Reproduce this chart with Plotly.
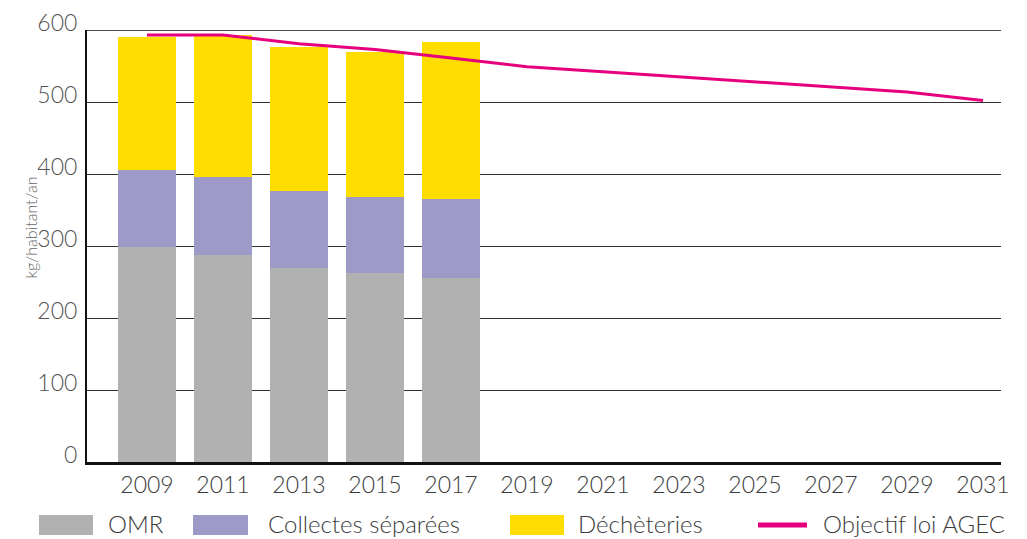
import plotly.graph_objects as go

# Household waste per inhabitant (kg/habitant/an)
years = ["2009", "2011", "2013", "2015", "2017", "2019", "2021",
         "2023", "2025", "2027", "2029", "2031"]
bar_years = ["2009", "2011", "2013", "2015", "2017"]
omr = [299, 288, 270, 262, 255]
collectes = [106, 108, 106, 106, 110]
decheteries = [185, 197, 200, 202, 218]
objectif_agec = [593, 593, 581, 573, 561, 549, 542, 535, 528, 522, 514, 502]

C_OMR = "#b1b1b1"
C_COLL = "#9d9ac8"
C_DECH = "#ffdd00"
C_AGEC = "#e6007e"
TXT = "#3c3c3c"
FONT = "Lato"

# Canvas / plot area geometry (pixels)
W_TOT, H_TOT = 1027, 539
ML, MR, MT, MB = 87, 26, 30, 77
PW = W_TOT - ML - MR
PH = H_TOT - MT - MB


def px(x):
    return (x - ML) / PW


def py(y):
    return (H_TOT - MB - y) / PH


fig = go.Figure()
fig.add_bar(x=bar_years, y=omr, name="OMR", marker_color=C_OMR,
            marker_line_width=0)
fig.add_bar(x=bar_years, y=collectes, name="Collectes séparées",
            marker_color=C_COLL, marker_line_width=0)
fig.add_bar(x=bar_years, y=decheteries, name="Déchèteries",
            marker_color=C_DECH, marker_line_width=0)
fig.add_scatter(x=years, y=objectif_agec, name="Objectif loi AGEC",
                mode="lines", line=dict(color=C_AGEC, width=3))

shapes = [
    # top border of the plot area
    dict(type="line", xref="paper", yref="y", x0=0, x1=1, y0=600, y1=600,
         line=dict(color="#111111", width=1.5), layer="above"),
]
annotations = [
    dict(text="kg/habitant/an", textangle=-90, xref="paper", yref="paper",
         x=px(18), y=py(228), showarrow=False,
         font=dict(family=FONT, size=16, color="#666666", weight=300)),
]

# Custom legend row
legend_items = [
    ("rect", C_OMR, 39, 93, 107, "OMR"),
    ("rect", C_COLL, 193, 248, 267, "Collectes séparées"),
    ("rect", C_DECH, 510, 564, 577, "Déchèteries"),
    ("line", C_AGEC, 758, 807, 822, "Objectif loi AGEC"),
]
LY = 525
for kind, col, x0, x1, tx, label in legend_items:
    if kind == "rect":
        shapes.append(dict(type="rect", xref="paper", yref="paper",
                           x0=px(x0), x1=px(x1), y0=py(LY + 10), y1=py(LY - 10),
                           fillcolor=col, line=dict(width=0)))
    else:
        shapes.append(dict(type="line", xref="paper", yref="paper",
                           x0=px(x0), x1=px(x1), y0=py(LY), y1=py(LY),
                           line=dict(color=col, width=5)))
    annotations.append(dict(text=label, xref="paper", yref="paper",
                            x=px(tx), y=py(LY - 2), xanchor="left", yanchor="middle",
                            showarrow=False, borderpad=0,
                            font=dict(family=FONT, size=24, color=TXT, weight=300)))

fig.update_layout(
    width=W_TOT, height=H_TOT,
    margin=dict(l=ML, r=MR, t=MT, b=MB, autoexpand=False),
    paper_bgcolor="white", plot_bgcolor="white",
    barmode="stack", bargap=0.224,
    showlegend=False,
    font=dict(family=FONT, color=TXT),
    shapes=shapes, annotations=annotations,
    xaxis=dict(
        type="category", categoryorder="array", categoryarray=years,
        range=[(ML - 147) / 76, (ML + PW - 147) / 76],
        showgrid=False, showline=True, linecolor="#111111", linewidth=2.5,
        ticks="", ticklabelstandoff=1, automargin=False,
        tickfont=dict(family=FONT, size=23, color=TXT, weight=300),
        fixedrange=True,
    ),
    yaxis=dict(
        range=[0, 600], tickvals=[0, 100, 200, 300, 400, 500, 600],
        showgrid=True, gridcolor="#333333", gridwidth=1,
        zeroline=False, automargin=False,
        showline=True, linecolor="#111111", linewidth=2,
        ticks="", ticklabelstandoff=3, ticklabelshift=-7,
        tickfont=dict(family=FONT, size=23, color="#555555", weight=300),
        fixedrange=True,
    ),
)

fig.write_html("out.html")
